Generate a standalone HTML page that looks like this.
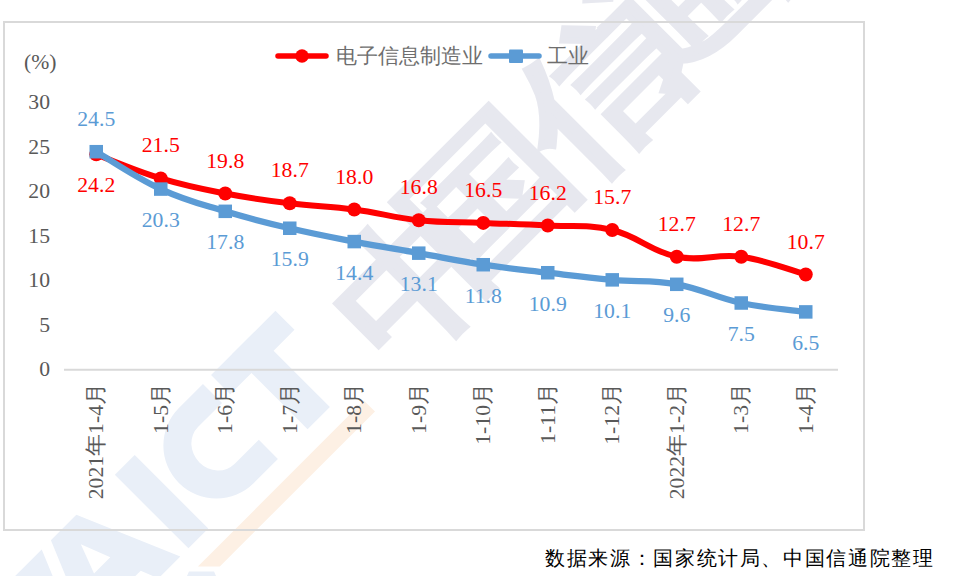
<!DOCTYPE html>
<html><head><meta charset="utf-8"><style>
html,body{margin:0;padding:0;background:#fff;width:961px;height:576px;overflow:hidden}
svg{display:block;font-family:"Liberation Serif",serif}
</style></head><body>
<svg width="961" height="576" viewBox="0 0 961 576">

<polygon points="363.8,400.6 375,411.5 219.8,566.5 197.9,566.5" fill="#FDF0E4"/>
<polygon points="189,571.5 214,571.5 216,576 187,576" fill="#E9EFF8"/>
<g transform="rotate(-45)" fill="#E9EFF8">
<rect x="-116" y="414.5" width="91" height="27"/>
<rect x="-86" y="414.5" width="31.5" height="106.5"/>
<rect x="-254.5" y="417" width="28" height="104"/>
<path d="M-128,415 L-162,415 A53,53 0 0 0 -162,521 L-128,521 L-128,494 L-162,494 A24,26 0 0 1 -162,442 L-128,442 Z"/>
<path d="M-346,418 L-310,418 L-266,521 L-297,521 L-304,503 L-351,503 L-358,521 L-389,521 Z M-327.7,442 L-316,472 L-339,472 Z" fill-rule="evenodd"/>
<path d="M-460,418 L-359,418 L-402,521 L-460,521 Z"/>
<g font-size="168" font-weight="bold" fill="#E7E8EF" stroke="#E7E8EF" stroke-width="1.5" style="font-family:&quot;Liberation Sans&quot;,sans-serif">
<text transform="translate(14,545) scale(1,0.89)">中</text>
<text transform="translate(120,536) scale(1,0.89)">国</text>
<text transform="translate(278,539) scale(1,0.89)">信</text>
<text transform="translate(400,530) scale(1,0.89)">通</text>
<text transform="translate(550,536) scale(1,0.89)">院</text>
</g>
</g>
<rect x="4" y="22" width="860" height="508" fill="none" stroke="#D9D9D9" stroke-width="2"/>
<line x1="64" y1="369.75" x2="838" y2="369.75" stroke="#D9D9D9" stroke-width="2"/>
<text x="50" y="376.05" font-size="21.7" fill="#595959" text-anchor="end">0</text>
<text x="50" y="331.55" font-size="21.7" fill="#595959" text-anchor="end">5</text>
<text x="50" y="287.05" font-size="21.7" fill="#595959" text-anchor="end">10</text>
<text x="50" y="242.55" font-size="21.7" fill="#595959" text-anchor="end">15</text>
<text x="50" y="198.05" font-size="21.7" fill="#595959" text-anchor="end">20</text>
<text x="50" y="153.55" font-size="21.7" fill="#595959" text-anchor="end">25</text>
<text x="50" y="109.05" font-size="21.7" fill="#595959" text-anchor="end">30</text>
<text x="24" y="69" font-size="21.7" fill="#595959">(%)</text>
<text transform="translate(96.25,383.00) rotate(-90)" x="0" y="7" font-size="21.7" fill="#595959" text-anchor="end">2021年1-4月</text>
<text transform="translate(160.75,383.00) rotate(-90)" x="0" y="7" font-size="21.7" fill="#595959" text-anchor="end">1-5月</text>
<text transform="translate(225.25,383.00) rotate(-90)" x="0" y="7" font-size="21.7" fill="#595959" text-anchor="end">1-6月</text>
<text transform="translate(289.75,383.00) rotate(-90)" x="0" y="7" font-size="21.7" fill="#595959" text-anchor="end">1-7月</text>
<text transform="translate(354.25,383.00) rotate(-90)" x="0" y="7" font-size="21.7" fill="#595959" text-anchor="end">1-8月</text>
<text transform="translate(418.75,383.00) rotate(-90)" x="0" y="7" font-size="21.7" fill="#595959" text-anchor="end">1-9月</text>
<text transform="translate(483.25,383.00) rotate(-90)" x="0" y="7" font-size="21.7" fill="#595959" text-anchor="end">1-10月</text>
<text transform="translate(547.75,383.00) rotate(-90)" x="0" y="7" font-size="21.7" fill="#595959" text-anchor="end">1-11月</text>
<text transform="translate(612.25,383.00) rotate(-90)" x="0" y="7" font-size="21.7" fill="#595959" text-anchor="end">1-12月</text>
<text transform="translate(676.75,383.00) rotate(-90)" x="0" y="7" font-size="21.7" fill="#595959" text-anchor="end">2022年1-2月</text>
<text transform="translate(741.25,383.00) rotate(-90)" x="0" y="7" font-size="21.7" fill="#595959" text-anchor="end">1-3月</text>
<text transform="translate(805.75,383.00) rotate(-90)" x="0" y="7" font-size="21.7" fill="#595959" text-anchor="end">1-4月</text>
<path d="M96.25,154.37 C109.15,159.18 134.95,170.57 160.75,178.40 C186.55,186.23 199.45,188.55 225.25,193.53 C251.05,198.51 263.95,200.12 289.75,203.32 C315.55,206.52 328.45,206.17 354.25,209.55 C380.05,212.93 392.95,217.56 418.75,220.23 C444.55,222.90 457.45,221.83 483.25,222.90 C509.05,223.97 521.95,224.15 547.75,225.57 C573.55,226.99 586.45,223.79 612.25,230.02 C638.05,236.25 650.95,251.38 676.75,256.72 C702.55,262.06 715.45,253.16 741.25,256.72 C767.05,260.28 792.85,270.96 805.75,274.52" fill="none" stroke="#FF0000" stroke-width="6" stroke-linecap="round" stroke-linejoin="round"/>
<circle cx="96.25" cy="154.37" r="7" fill="#FF0000"/>
<circle cx="160.75" cy="178.40" r="7" fill="#FF0000"/>
<circle cx="225.25" cy="193.53" r="7" fill="#FF0000"/>
<circle cx="289.75" cy="203.32" r="7" fill="#FF0000"/>
<circle cx="354.25" cy="209.55" r="7" fill="#FF0000"/>
<circle cx="418.75" cy="220.23" r="7" fill="#FF0000"/>
<circle cx="483.25" cy="222.90" r="7" fill="#FF0000"/>
<circle cx="547.75" cy="225.57" r="7" fill="#FF0000"/>
<circle cx="612.25" cy="230.02" r="7" fill="#FF0000"/>
<circle cx="676.75" cy="256.72" r="7" fill="#FF0000"/>
<circle cx="741.25" cy="256.72" r="7" fill="#FF0000"/>
<circle cx="805.75" cy="274.52" r="7" fill="#FF0000"/>
<path d="M96.25,151.70 C109.15,159.18 134.95,177.15 160.75,189.08 C186.55,201.01 199.45,203.50 225.25,211.33 C251.05,219.16 263.95,222.19 289.75,228.24 C315.55,234.29 328.45,236.61 354.25,241.59 C380.05,246.57 392.95,248.53 418.75,253.16 C444.55,257.79 457.45,260.81 483.25,264.73 C509.05,268.65 521.95,269.71 547.75,272.74 C573.55,275.77 586.45,277.55 612.25,279.86 C638.05,282.17 650.95,279.68 676.75,284.31 C702.55,288.94 715.45,297.48 741.25,303.00 C767.05,308.52 792.85,310.12 805.75,311.90" fill="none" stroke="#5B9BD5" stroke-width="6.3" stroke-linecap="round" stroke-linejoin="round"/>
<rect x="89.50" y="144.95" width="13.5" height="13.5" fill="#5B9BD5"/>
<rect x="154.00" y="182.33" width="13.5" height="13.5" fill="#5B9BD5"/>
<rect x="218.50" y="204.58" width="13.5" height="13.5" fill="#5B9BD5"/>
<rect x="283.00" y="221.49" width="13.5" height="13.5" fill="#5B9BD5"/>
<rect x="347.50" y="234.84" width="13.5" height="13.5" fill="#5B9BD5"/>
<rect x="412.00" y="246.41" width="13.5" height="13.5" fill="#5B9BD5"/>
<rect x="476.50" y="257.98" width="13.5" height="13.5" fill="#5B9BD5"/>
<rect x="541.00" y="265.99" width="13.5" height="13.5" fill="#5B9BD5"/>
<rect x="605.50" y="273.11" width="13.5" height="13.5" fill="#5B9BD5"/>
<rect x="670.00" y="277.56" width="13.5" height="13.5" fill="#5B9BD5"/>
<rect x="734.50" y="296.25" width="13.5" height="13.5" fill="#5B9BD5"/>
<rect x="799.00" y="305.15" width="13.5" height="13.5" fill="#5B9BD5"/>
<text x="96.25" y="192.37" font-size="21.7" fill="#FF0000" text-anchor="middle">24.2</text>
<text x="160.75" y="152.40" font-size="21.7" fill="#FF0000" text-anchor="middle">21.5</text>
<text x="225.25" y="167.53" font-size="21.7" fill="#FF0000" text-anchor="middle">19.8</text>
<text x="289.75" y="177.32" font-size="21.7" fill="#FF0000" text-anchor="middle">18.7</text>
<text x="354.25" y="183.55" font-size="21.7" fill="#FF0000" text-anchor="middle">18.0</text>
<text x="418.75" y="194.23" font-size="21.7" fill="#FF0000" text-anchor="middle">16.8</text>
<text x="483.25" y="196.90" font-size="21.7" fill="#FF0000" text-anchor="middle">16.5</text>
<text x="547.75" y="199.57" font-size="21.7" fill="#FF0000" text-anchor="middle">16.2</text>
<text x="612.25" y="204.02" font-size="21.7" fill="#FF0000" text-anchor="middle">15.7</text>
<text x="676.75" y="230.72" font-size="21.7" fill="#FF0000" text-anchor="middle">12.7</text>
<text x="741.25" y="230.72" font-size="21.7" fill="#FF0000" text-anchor="middle">12.7</text>
<text x="805.75" y="248.52" font-size="21.7" fill="#FF0000" text-anchor="middle">10.7</text>
<text x="96.25" y="125.70" font-size="21.7" fill="#5B9BD5" text-anchor="middle">24.5</text>
<text x="160.75" y="227.08" font-size="21.7" fill="#5B9BD5" text-anchor="middle">20.3</text>
<text x="225.25" y="249.33" font-size="21.7" fill="#5B9BD5" text-anchor="middle">17.8</text>
<text x="289.75" y="266.24" font-size="21.7" fill="#5B9BD5" text-anchor="middle">15.9</text>
<text x="354.25" y="279.59" font-size="21.7" fill="#5B9BD5" text-anchor="middle">14.4</text>
<text x="418.75" y="291.16" font-size="21.7" fill="#5B9BD5" text-anchor="middle">13.1</text>
<text x="483.25" y="302.73" font-size="21.7" fill="#5B9BD5" text-anchor="middle">11.8</text>
<text x="547.75" y="310.74" font-size="21.7" fill="#5B9BD5" text-anchor="middle">10.9</text>
<text x="612.25" y="317.86" font-size="21.7" fill="#5B9BD5" text-anchor="middle">10.1</text>
<text x="676.75" y="322.31" font-size="21.7" fill="#5B9BD5" text-anchor="middle">9.6</text>
<text x="741.25" y="341.00" font-size="21.7" fill="#5B9BD5" text-anchor="middle">7.5</text>
<text x="805.75" y="349.90" font-size="21.7" fill="#5B9BD5" text-anchor="middle">6.5</text>
<line x1="278" y1="56" x2="326" y2="56" stroke="#FF0000" stroke-width="5.5" stroke-linecap="round"/>
<circle cx="302" cy="56" r="6.7" fill="#FF0000"/>
<text x="336" y="62.5" font-size="21" fill="#6E6E6E">电子信息制造业</text>
<line x1="491" y1="56" x2="539" y2="56" stroke="#5B9BD5" stroke-width="5.5" stroke-linecap="round"/>
<rect x="509" y="49.5" width="14" height="13.5" rx="1" fill="#5B9BD5"/>
<text x="547" y="62.5" font-size="21" fill="#6E6E6E">工业</text>
<text x="545" y="565" font-size="19.5" fill="#000" letter-spacing="1.65">数据来源：国家统计局、中国信通院整理</text>
</svg></body></html>
